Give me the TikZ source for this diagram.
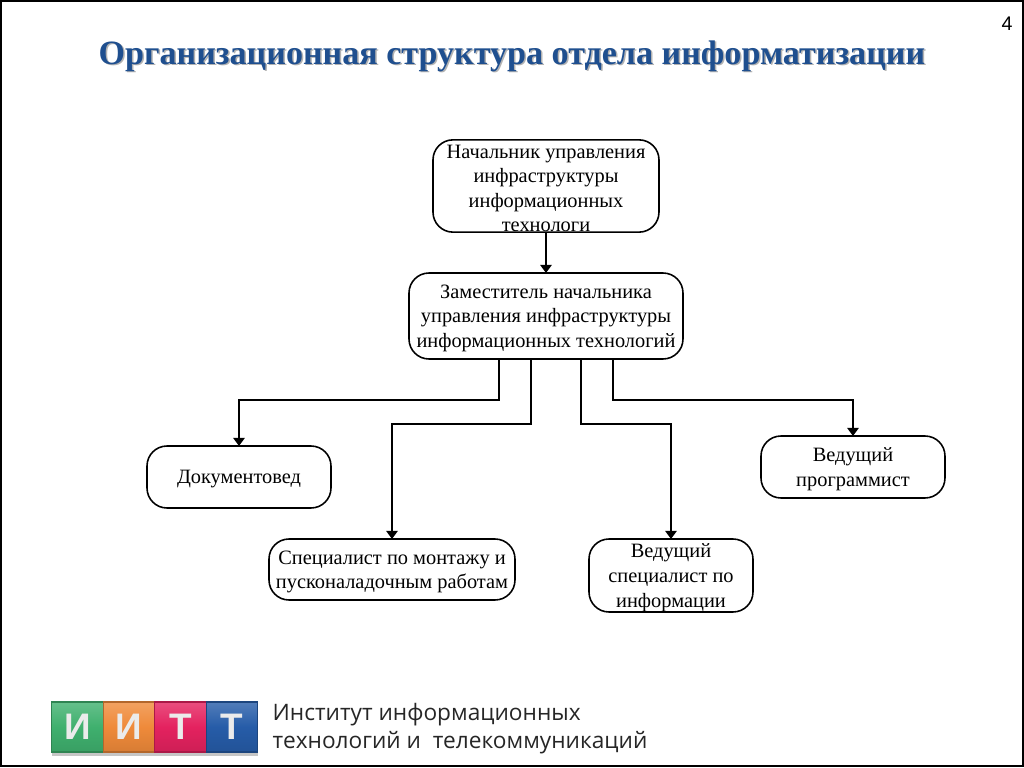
\documentclass[tikz,border=0pt]{standalone}
\usepackage{fontspec}
\setmainfont{Liberation Serif}
\newfontfamily\footfont{Open Sans}
\newfontfamily\numfont{Liberation Sans}
\usetikzlibrary{arrows.meta}
\definecolor{titleblue}{HTML}{1F4F8F}
\definecolor{tilegreen}{HTML}{3FB06E}
\definecolor{tileorange}{HTML}{EF8A3A}
\definecolor{tilepink}{HTML}{E4225F}
\definecolor{tileblue}{HTML}{265CA8}
\newcommand{\toprise}{\rule{0pt}{5.2pt}}
\tikzset{
  post/.style={draw,line width=0.45pt,rounded corners=0.2cm,inner sep=0pt,outer sep=0pt,align=center,
    font=\fontsize{5.8pt}{7pt}\selectfont},
  link/.style={line width=0.6pt,-{Triangle[width=3.2pt,length=2.3pt]}},
  tile/.style={draw=#1!75!black,line width=0.3pt,top color=#1!80!white,bottom color=#1!90!black,
    middle color=#1,minimum width=0.515cm,minimum height=0.5cm,inner sep=0pt,outer sep=0pt,
    text=white!92!black,font=\fontsize{10.5pt}{11pt}\numfont\bfseries}
}
\begin{document}
\begin{tikzpicture}
    \useasboundingbox (0,0) rectangle (10.24,-7.68);
    \draw[line width=0.6pt] (0.01,-0.01) rectangle (10.23,-7.66);
    \node[text=gray!60,font=\fontsize{9.7pt}{11pt}\selectfont\bfseries] (titleback) at (5.135,-0.57) {Организационная структура отдела информатизации};
    \node[text=titleblue,font=\fontsize{9.7pt}{11pt}\selectfont\bfseries] (title) at (5.12,-0.56) {Организационная структура отдела информатизации};
    \node[font=\fontsize{5.6pt}{6pt}\numfont] (page) at (10.07,-0.24) {4};
    % boxes
    \node[post,minimum width=2.26cm,minimum height=0.92cm] (chief) at (5.46,-1.86) {\toprise Начальник управления\\инфраструктуры\\информационных\\технологи};
    \node[post,minimum width=2.74cm,minimum height=0.86cm] (deputy) at (5.46,-3.16) {\toprise Заместитель начальника\\управления инфраструктуры\\информационных технологий};
    \node[post,minimum width=1.84cm,minimum height=0.62cm] (docman) at (2.39,-4.77) {\toprise Документовед};
    \node[post,minimum width=2.46cm,minimum height=0.61cm] (mounter) at (3.92,-5.695) {\toprise Специалист по монтажу и\\пусконаладочным работам};
    \node[post,minimum width=1.64cm,minimum height=0.73cm] (leadspec) at (6.71,-5.755) {\toprise Ведущий\\специалист по\\информации};
    \node[post,minimum width=1.84cm,minimum height=0.62cm] (leadprog) at (8.53,-4.67) {\toprise Ведущий\\программист};
    % links
    \draw[link] (chief) -- (deputy);
    \draw[link] ([xshift=-0.47cm]deputy.south) -- ++(0,-0.41) -| (docman.north);
    \draw[link] ([xshift=-0.15cm]deputy.south) -- ++(0,-0.65) -| (mounter.north);
    \draw[link] ([xshift=0.35cm]deputy.south) -- ++(0,-0.65) -| (leadspec.north);
    \draw[link] ([xshift=0.67cm]deputy.south) -- ++(0,-0.41) -| (leadprog.north);
    % logo
    \fill[gray!45] (0.52,-7.1) rectangle (2.58,-7.56);
    \node[tile=tilegreen] (tilea) at (0.775,-7.27) {И};
    \node[tile=tileorange] (tileb) at (1.29,-7.27) {И};
    \node[tile=tilepink] (tilec) at (1.805,-7.27) {Т};
    \node[tile=tileblue] (tiled) at (2.32,-7.27) {Т};
    \node[anchor=west,inner sep=0pt,align=left,text=black!85,font=\fontsize{6.45pt}{7.9pt}\footfont] (institute) at (2.72,-7.285) {Институт информационных\\технологий и\ \ телекоммуникаций};
\end{tikzpicture}
\end{document}
